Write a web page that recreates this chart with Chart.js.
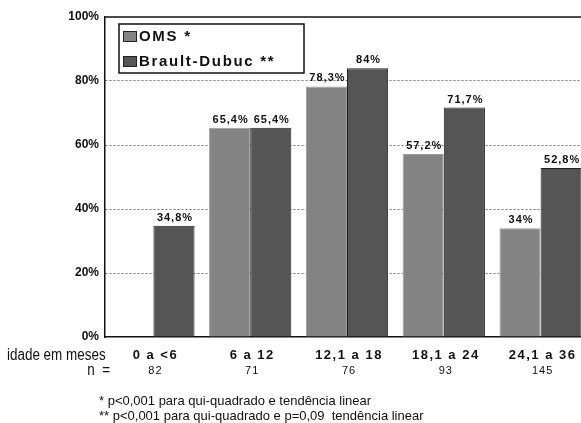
<!DOCTYPE html>
<html>
<head>
<meta charset="utf-8">
<script src="https://cdn.jsdelivr.net/npm/chart.js@4.4.1/dist/chart.umd.min.js"></script>
<style>
  html, body { margin: 0; padding: 0; background: #fff; overflow: hidden; }
  #wrap { width: 600px; height: 423px; }
</style>
</head>
<body>
<div id="wrap"><canvas id="chart" width="600" height="423"></canvas></div>
<script>
const categories = ["0 a <6", "6 a 12", "12,1 a 18", "18,1 a 24", "24,1 a 36"];
const sampleSizes = [82, 71, 76, 93, 145];
const omsValues = [null, 65.4, 78.3, 57.2, 34];
const braultValues = [34.8, 65.4, 84, 71.7, 52.8];
const yTicks = [0, 20, 40, 60, 80, 100];
const footnotes = [
  "* p<0,001 para qui-quadrado e tendência linear",
  "** p<0,001 para qui-quadrado e p=0,09  tendência linear"
];

const fmt = v => String(v).replace('.', ',') + '%';

// value labels above the bars
const barLabels = {
  id: 'barLabels',
  afterDatasetsDraw(chart) {
    const ctx = chart.ctx;
    ctx.save();
    ctx.font = 'bold 11px "Liberation Sans", Arial, sans-serif';
    ctx.letterSpacing = '1px';
    ctx.fillStyle = '#111';
    ctx.textAlign = 'center';
    ctx.textBaseline = 'alphabetic';
    chart.data.datasets.forEach((ds, di) => {
      chart.getDatasetMeta(di).data.forEach((el, i) => {
        const v = ds.data[i];
        if (v == null) return;
        ctx.fillText(fmt(v), el.x + 1, el.y - 5);
      });
    });
    ctx.restore();
  }
};

// narrow text: squeeze horizontally around the anchor
function narrowText(ctx, text, x, y, sx) {
  ctx.save();
  ctx.translate(x, y);
  ctx.scale(sx, 1);
  ctx.fillText(text, 0, 0);
  ctx.restore();
}

// frame top line, legend box, category texts and footnotes
const extras = {
  id: 'extras',
  afterDraw(chart) {
    const ctx = chart.ctx;
    const area = chart.chartArea;
    const x = chart.scales.x;
    ctx.save();

    ctx.strokeStyle = '#111';
    ctx.lineWidth = 1.5;
    ctx.beginPath();
    ctx.moveTo(area.left, area.top);
    ctx.lineTo(area.right, area.top);
    ctx.stroke();

    // legend
    ctx.fillStyle = '#fff';
    ctx.fillRect(119, 24, 185, 49);
    ctx.strokeRect(119, 24, 185, 49);
    ctx.font = 'bold 15px "Liberation Sans", Arial, sans-serif';
    ctx.letterSpacing = '1.7px';
    ctx.textAlign = 'left';
    ctx.textBaseline = 'middle';
    chart.data.datasets.forEach((ds, i) => {
      const y = 36 + i * 25;
      ctx.fillStyle = ds.backgroundColor;
      ctx.fillRect(123, y - 5, 13, 10);
      ctx.lineWidth = 1;
      ctx.strokeStyle = '#222';
      ctx.strokeRect(123.5, y - 4.5, 13, 10);
      ctx.fillStyle = '#111';
      ctx.fillText(ds.label, 139, y + 1);
    });

    // category labels and n
    ctx.textAlign = 'center';
    categories.forEach((c, i) => {
      const px = x.getPixelForValue(i) + 2;
      ctx.font = 'bold 13px "Liberation Sans", Arial, sans-serif';
      ctx.letterSpacing = '1.5px';
      ctx.fillText(c, px, 355);
      ctx.font = '11px "Liberation Sans", Arial, sans-serif';
      ctx.letterSpacing = '1px';
      ctx.fillText(String(sampleSizes[i]), px, 371);
    });

    ctx.letterSpacing = '0px';
    ctx.textAlign = 'left';
    ctx.font = '16px "Liberation Sans", Arial, sans-serif';
    narrowText(ctx, 'idade em meses', 7, 356, 0.84);
    ctx.textAlign = 'right';
    narrowText(ctx, 'n  =', 110, 371, 0.84);

    ctx.textAlign = 'left';
    ctx.font = '13px "Liberation Sans", Arial, sans-serif';
    footnotes.forEach((t, i) => ctx.fillText(t, 99, 401 + i * 15));
    ctx.restore();
  }
};

new Chart(document.getElementById('chart'), {
  type: 'bar',
  data: {
    labels: categories,
    datasets: [
      {
        label: 'OMS *',
        data: omsValues,
        backgroundColor: '#838383',
        borderColor: '#9a9a9a',
        borderWidth: 1
      },
      {
        label: 'Brault-Dubuc **',
        data: braultValues,
        backgroundColor: '#555555',
        borderColor: '#222222',
        borderWidth: 1
      }
    ]
  },
  options: {
    responsive: false,
    animation: false,
    layout: { padding: { top: 17, right: 11, bottom: 86, left: 0 } },
    datasets: { bar: { categoryPercentage: 0.85, barPercentage: 1 } },
    plugins: { legend: { display: false }, tooltip: { enabled: false } },
    scales: {
      x: {
        ticks: { display: false },
        grid: { display: false, drawTicks: false },
        border: { display: true, color: '#111', width: 1.5 }
      },
      y: {
        min: 0,
        max: 100,
        afterBuildTicks: s => { s.ticks = yTicks.map(v => ({ value: v })); },
        afterFit: s => { s.width = 105; },
        ticks: {
          padding: 6,
          color: '#111',
          font: { family: '"Liberation Sans", Arial, sans-serif', size: 12, weight: 'bold' },
          callback: v => v + '%'
        },
        grid: {
          drawTicks: false,
          color: c => (c.tick.value === 0 || c.tick.value === 100) ? 'rgba(0,0,0,0)' : '#777',
          lineWidth: 1
        },
        border: { display: true, color: '#111', width: 1.5, dash: [2, 2] }
      }
    }
  },
  plugins: [barLabels, extras]
});
</script>
</body>
</html>
